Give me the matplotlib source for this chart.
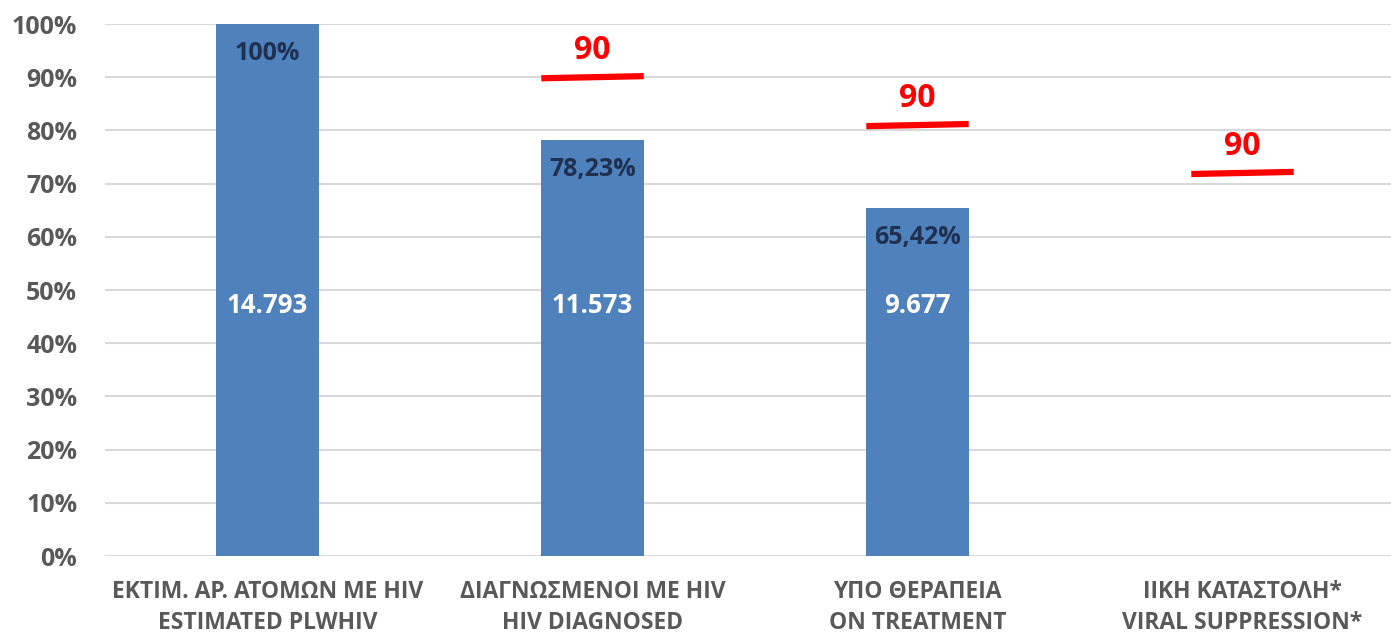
import matplotlib.pyplot as plt
from matplotlib.ticker import PercentFormatter

plt.rcParams['font.family'] = ['Open Sans', 'DejaVu Sans']
plt.rcParams['font.weight'] = 'bold'

categories = ["ΕΚΤΙΜ. ΑΡ. ΑΤΟΜΩΝ ΜΕ HIV\nESTIMATED PLWHIV",
              "ΔΙΑΓΝΩΣΜΕΝΟΙ ΜΕ HIV\nHIV DIAGNOSED",
              "ΥΠΟ ΘΕΡΑΠΕΙΑ\nON TREATMENT",
              "ΙΙΚΗ ΚΑΤΑΣΤΟΛΗ*\nVIRAL SUPPRESSION*"]
pct = [1.0, 0.7823, 0.6542]
pct_labels = ["100%", "78,23%", "65,42%"]
counts = ["14.793", "11.573", "9.677"]
targets = [0.90, 0.81, 0.72]
target_labels = ["90", "90", "90"]

fig = plt.figure(figsize=(13.91, 6.35), dpi=100)
ax = fig.add_axes([105/1391, 1-556/635, 1300/1391, 532/635])

x = range(len(categories))
bw = 0.315
ax.bar(x[:3], pct, width=bw, color="#4F81BD", zorder=3)

for i in range(3):
    ax.text(i, pct[i] - 0.055, pct_labels[i], ha="center", va="center",
            color="#1F3050", fontsize=18, fontweight="bold", zorder=4)
    ax.text(i, 0.47, counts[i], ha="center", va="center",
            color="white", fontsize=18.5, fontweight="bold", zorder=4)

# target marks, drawn with the slight tilt seen in the original
for j, t in enumerate(targets):
    i = j + 1
    ax.plot([i - bw/2, i + bw/2], [t - 0.002, t + 0.002], color="#FF0000",
            lw=4.5, solid_capstyle="butt", zorder=5)
    ax.text(i, t + 0.05, target_labels[j], ha="center", va="center",
            color="#FF0000", fontsize=23, fontweight="bold", zorder=5)

ax.set_xlim(-0.5, 3.5)
ax.set_ylim(0, 1.0)
ax.set_yticks([i/10 for i in range(11)])
ax.yaxis.set_major_formatter(PercentFormatter(1.0, decimals=0))
ax.set_xticks(list(x))
ax.set_xticklabels(categories, fontsize=16.5, color="#595959",
                   fontweight="bold", linespacing=1.4)
ax.tick_params(axis="y", labelsize=18, colors="#595959", length=0, pad=20)
ax.tick_params(axis="x", length=0, pad=17)
ax.grid(axis="y", color="#D9D9D9", lw=1.5, zorder=0)
for s in ax.spines.values():
    s.set_visible(False)

fig.savefig("out.png", dpi=100)
